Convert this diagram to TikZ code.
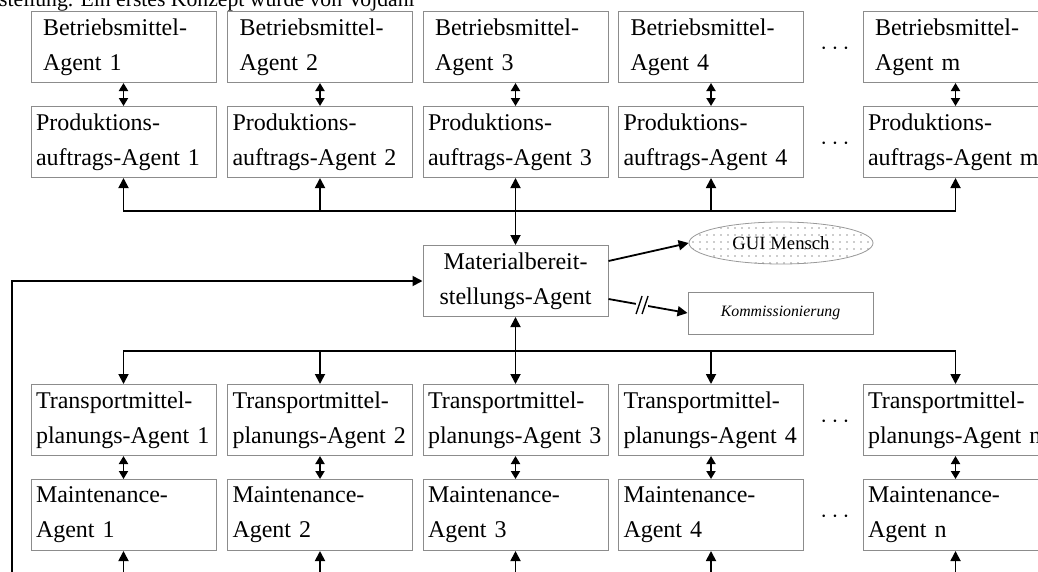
\documentclass[tikz,border=0pt]{standalone}
\usepackage{fontspec}
\setmainfont{Liberation Serif}
\usetikzlibrary{arrows.meta,shapes.geometric,patterns.meta,calc}

\begin{document}
\begin{tikzpicture}[x=1pt,y=-1pt]
\tikzstyle{agent}=[draw=black!45, line width=1pt, minimum width=185pt, minimum height=71pt, text width=175pt, inner xsep=5pt, inner ysep=0pt, align=left, font=\fontsize{24}{35}\selectfont]
\tikzstyle{bmagent}=[agent, text width=161pt, inner xsep=12pt]
\tikzstyle{arr}=[line width=1.8pt, -{Triangle[length=10pt,width=10pt]}]
\tikzstyle{darr}=[line width=1.8pt, {Triangle[length=8pt,width=9pt]}-{Triangle[length=8pt,width=9pt]}]
\tikzstyle{dotsnode}=[inner sep=0pt, font=\fontsize{26}{36}\selectfont]
\tikzstyle{brkgap}=[fill=white, minimum width=12pt, minimum height=32pt, inner sep=0pt]
\useasboundingbox (0,0) rectangle (1038,571);
\clip (0,0) rectangle (1038,571);
\node[anchor=base west, inner sep=0pt, font=\fontsize{21.7}{25}\selectfont] (txt) at (-1,6) {stellung. Ein erstes Konzept wurde von Vojdani};
\node[bmagent] (bm1) at (123.5,47) {Betriebsmittel-\\Agent 1};
\node[bmagent] (bm2) at (320,47) {Betriebsmittel-\\Agent 2};
\node[bmagent] (bm3) at (515.5,47) {Betriebsmittel-\\Agent 3};
\node[bmagent] (bm4) at (711,47) {Betriebsmittel-\\Agent 4};
\node[bmagent] (bmm) at (955.5,47) {Betriebsmittel-\\Agent m};
\node[agent] (pa1) at (123.5,142) {Produktions-\\auftrags-Agent 1};
\node[agent] (pa2) at (320,142) {Produktions-\\auftrags-Agent 2};
\node[agent] (pa3) at (515.5,142) {Produktions-\\auftrags-Agent 3};
\node[agent] (pa4) at (711,142) {Produktions-\\auftrags-Agent 4};
\node[agent] (pam) at (955.5,142) {Produktions-\\auftrags-Agent m};
\node[agent, align=center] (mat) at (515.5,281) {Materialbereit-\\stellungs-Agent};
\node[ellipse, draw=black!40, line width=0.8pt, minimum width=184pt, minimum height=42pt, pattern={Dots[distance=7pt,radius=0.7pt]}, pattern color=black!85, font=\fontsize{18.7}{20}\selectfont] (gui) at (781,243) {GUI Mensch};
\node[draw=black!45, line width=1pt, minimum width=185pt, minimum height=42pt, font=\fontsize{15.8}{18}\selectfont\itshape] (kom) at (780.5,313) {Kommissionierung};
\node[agent] (tp1) at (123.5,420) {Transportmittel-\\planungs-Agent 1};
\node[agent] (tp2) at (320,420) {Transportmittel-\\planungs-Agent 2};
\node[agent] (tp3) at (515.5,420) {Transportmittel-\\planungs-Agent 3};
\node[agent] (tp4) at (711,420) {Transportmittel-\\planungs-Agent 4};
\node[agent] (tpn) at (955.5,420) {Transportmittel-\\planungs-Agent n};
\node[agent] (mt1) at (123.5,515) {Maintenance-\\Agent 1};
\node[agent] (mt2) at (320,515) {Maintenance-\\Agent 2};
\node[agent] (mt3) at (515.5,515) {Maintenance-\\Agent 3};
\node[agent] (mt4) at (711,515) {Maintenance-\\Agent 4};
\node[agent] (mtn) at (955.5,515) {Maintenance-\\Agent n};
\node[dotsnode] (dta) at (835,49) {$\cdots$};
\node[dotsnode] (dtb) at (835,144) {$\cdots$};
\node[dotsnode] (dtc) at (835,422) {$\cdots$};
\node[dotsnode] (dtd) at (835,517) {$\cdots$};
\coordinate (bust) at (515.5,211);
\coordinate (busb) at (515.5,351);
\coordinate (fb) at (12,600);
\draw[darr] (bm1) -- (pa1);
\draw[darr] (bm2) -- (pa2);
\draw[darr] (bm3) -- (pa3);
\draw[darr] (bm4) -- (pa4);
\draw[darr] (bmm) -- (pam);
\draw[arr] (bust) -| (pa1.south);
\draw[arr] (bust) -| (pam.south);
\draw[arr] (pa2.south |- bust) -- (pa2.south);
\draw[arr] (bust) -- (pa3.south);
\draw[arr] (pa4.south |- bust) -- (pa4.south);
\draw[arr] (bust) -- (mat.north);
\draw[arr] (busb) -- (mat.south);
\draw[arr] (busb) -| (tp1.north);
\draw[arr] (busb) -| (tpn.north);
\draw[arr] (tp2.north |- busb) -- (tp2.north);
\draw[arr] (busb) -- (tp3.north);
\draw[arr] (tp4.north |- busb) -- (tp4.north);
\draw[darr] (tp1) -- (mt1);
\draw[darr] (tp2) -- (mt2);
\draw[darr] (tp3) -- (mt3);
\draw[darr] (tp4) -- (mt4);
\draw[darr] (tpn) -- (mtn);
\draw[arr] ($(mt1.south)+(0,30)$) -- (mt1.south);
\draw[arr] ($(mt2.south)+(0,30)$) -- (mt2.south);
\draw[arr] ($(mt3.south)+(0,30)$) -- (mt3.south);
\draw[arr] ($(mt4.south)+(0,30)$) -- (mt4.south);
\draw[arr] ($(mtn.south)+(0,30)$) -- (mtn.south);
\draw[arr] (fb) |- (mat.west);
\draw[arr] ($(mat.east)+(0,-20)$) -- (gui.west);
\draw[arr] ($(mat.east)+(0,18)$) -- (kom.west) node[pos=0.425, brkgap] (brk) {};
\draw[line width=1.3pt] ($(brk)+(-6,9)$) -- ($(brk)+(0,-9)$);
\draw[line width=1.3pt] ($(brk)+(0,9)$) -- ($(brk)+(6,-9)$);
\end{tikzpicture}
\end{document}
